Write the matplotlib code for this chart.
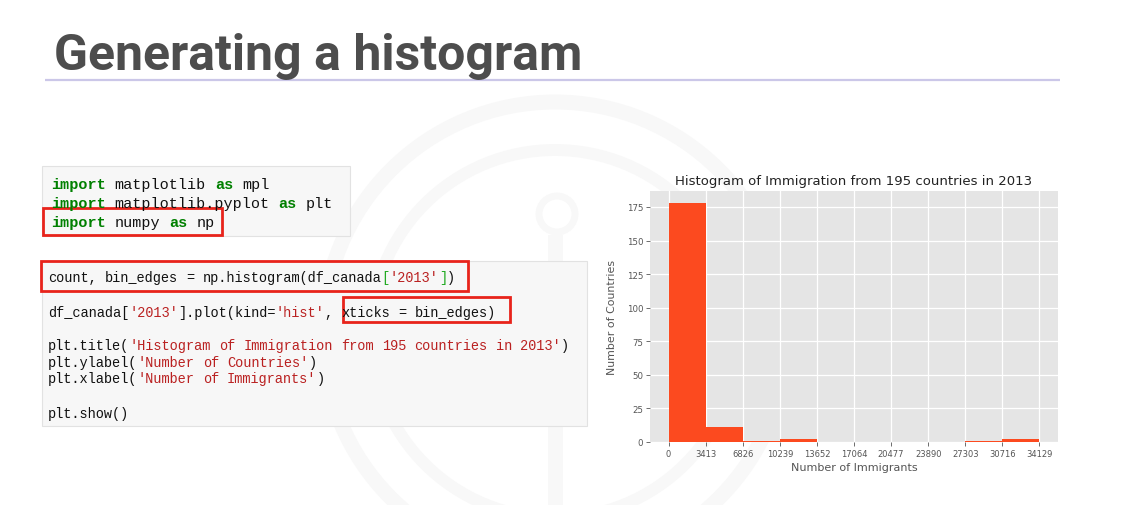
import re
import matplotlib
matplotlib.use("Agg")
import matplotlib.pyplot as plt
from matplotlib import font_manager
from matplotlib.patches import Rectangle, Circle

W, H = 1127, 506

# histogram data
bin_edges = [0, 3413, 6826, 10239, 13652, 17064, 20477, 23890, 27303, 30716, 34129]
counts = [178, 11, 1, 2, 0, 0, 0, 0, 1, 2]
y_ticks = [0, 25, 50, 75, 100, 125, 150, 175]

slide_title = "Generating a histogram"
chart_title = "Histogram of Immigration from 195 countries in 2013"
x_label = "Number of Immigrants"
y_label = "Number of Countries"

# code cells: list of lines, each line a list of (text, kind)
cell1 = [
    [("import", "kw"), (" matplotlib ", "n"), ("as", "kw"), (" mpl", "n")],
    [("import", "kw"), (" matplotlib.pyplot ", "n"), ("as", "kw"), (" plt", "n")],
    [("import", "kw"), (" numpy ", "n"), ("as", "kw"), (" np", "n")],
]
cell2 = [
    [("count, bin_edges = np.histogram(df_canada", "n"), ("[", "br"), ("'2013'", "s"), ("]", "br"), (")", "n")],
    [("df_canada[", "n"), ("'2013'", "s"), ("].plot(kind=", "n"), ("'hist'", "s"), (", xticks = bin_edges)", "n")],
    [("plt.title(", "n"), ("'Histogram of Immigration from 195 countries in 2013'", "s"), (")", "n")],
    [("plt.ylabel(", "n"), ("'Number of Countries'", "s"), (")", "n")],
    [("plt.xlabel(", "n"), ("'Number of Immigrants'", "s"), (")", "n")],
    [("plt.show()", "n")],
]
cell1_rows = [184, 203, 222]
cell2_rows = [278, 313, 346, 363, 379, 414]

colors = {"kw": "#008000", "n": "#111111", "s": "#ba2121", "br": "#22aa22"}


def pick_font(names):
    for name in names:
        try:
            font_manager.findfont(font_manager.FontProperties(family=name),
                                  fallback_to_default=False)
            return name
        except Exception:
            pass
    return "DejaVu Sans"


mono_font = pick_font(["Liberation Mono", "DejaVu Sans Mono"])

fig = plt.figure(figsize=(W / 100, H / 100), dpi=100, facecolor="white")

# background layer in pixel coordinates
bg = fig.add_axes([0, 0, 1, 1])
bg.set_xlim(0, W)
bg.set_ylim(H, 0)
bg.axis("off")

# faint watermark (logo rings + shaft)
wm = "#f8f8f8"
bg.add_patch(Circle((555, 335), 232, fill=False, ec=wm, lw=10.8))
bg.add_patch(Circle((555, 335), 184, fill=False, ec=wm, lw=8.6))
bg.add_patch(Circle((557, 215), 18, fill=False, ec=wm, lw=5))
bg.add_patch(Rectangle((548, 236), 15, 280, fc=wm, ec="none"))

bg.text(54, 70, slide_title, fontsize=36, fontweight="bold", color="#4d4d4d",
        family="Roboto", va="baseline")
bg.plot([45, 1060], [81, 81], color="#cbc7e8", lw=1.6, solid_capstyle="butt")

# code cells
bg.add_patch(Rectangle((42, 167), 308, 70, fc="#f7f7f7", ec="#e2e2e2", lw=0.8))
bg.add_patch(Rectangle((42, 262), 545, 165, fc="#f7f7f7", ec="#e2e2e2", lw=0.8))


def draw_code(lines, rows, x0, cw):
    # monospace grid: each space-separated word sits on its own column
    size = cw / 0.6 * 72 / 100
    for toks, y in zip(lines, rows):
        base = round(y + cw * 0.5)
        col = 0
        for txt, kind in toks:
            for m in re.finditer(r"\S+", txt):
                bg.text(x0 + (col + m.start()) * cw, base, m.group(),
                        fontsize=size, family=mono_font, color=colors[kind],
                        va="baseline",
                        fontweight="bold" if kind == "kw" else "normal")
            col += len(txt)


draw_code(cell1, cell1_rows, 51, 9.1)
draw_code(cell2, cell2_rows, 48, 8.14)

# red highlight boxes
red = "#e8231b"
for x, y, w, h in [(43, 209, 179, 27), (41, 262, 427, 30), (343, 298, 167, 25)]:
    bg.add_patch(Rectangle((x, y), w, h, fill=False, ec=red, lw=2))

# histogram
ax = fig.add_axes([650 / W, (H - 443) / H, 408 / W, 251 / H])
ax.set_facecolor("#e5e5e5")
ax.hist(bin_edges[:-1], bins=bin_edges, weights=counts, color="#fc4a1f", zorder=2)
ax.set_xticks(bin_edges)
ax.set_xticklabels([str(v) for v in bin_edges])
ax.set_yticks(y_ticks)
ax.grid(True, color="white", lw=0.9, zorder=0)
ax.set_axisbelow(True)
for s in ax.spines.values():
    s.set_visible(False)
ax.tick_params(colors="#555555", length=3, width=0.6, pad=2)
ax.tick_params(axis="x", labelsize=6)
ax.tick_params(axis="y", labelsize=6.2)
ax.set_title(chart_title, fontsize=9.5, color="#222222", pad=5)
ax.set_xlabel(x_label, fontsize=8, color="#555555", labelpad=3)
ax.set_ylabel(y_label, fontsize=7.9, color="#555555", labelpad=7)

fig.savefig("out.png", dpi=100, facecolor="white")
